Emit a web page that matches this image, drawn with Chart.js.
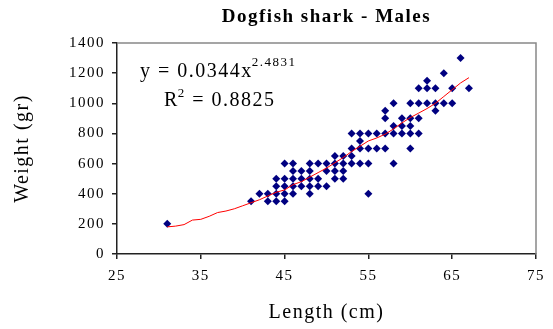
<!DOCTYPE html>
<html>
<head>
<meta charset="utf-8">
<script src="https://cdn.jsdelivr.net/npm/chart.js@4"></script>
<style>
  html, body { margin: 0; padding: 0; background: #fff; }
  #wrap { width: 553px; height: 329px; }
</style>
</head>
<body>
<div id="wrap"><canvas id="chartCanvas"></canvas></div>
<script>
const lengths = [
  31,
  41,
  42,
  43, 43,
  44, 44, 44, 44,
  45, 45, 45, 45, 45,
  46, 46, 46, 46, 46,
  47, 47, 47,
  48, 48, 48, 48, 48,
  49, 49, 49,
  50, 50, 50,
  51, 51, 51, 51,
  52, 52, 52, 52,
  53, 53, 53, 53,
  54, 54, 54, 54,
  55, 55, 55, 55,
  56, 56,
  57, 57, 57, 57,
  58, 58, 58, 58,
  59, 59, 59,
  60, 60, 60, 60, 60,
  61, 61, 61, 61,
  62, 62, 62,
  63, 63, 63,
  64, 64,
  65, 65,
  66,
  67
];
const weights = [
  200,
  350,
  400,
  400, 350,
  500, 450, 400, 350,
  600, 500, 450, 400, 350,
  600, 550, 500, 450, 400,
  550, 500, 450,
  600, 550, 500, 450, 400,
  600, 500, 450,
  600, 550, 450,
  650, 600, 550, 500,
  650, 600, 550, 500,
  800, 700, 650, 600,
  800, 750, 700, 600,
  800, 700, 600, 400,
  800, 700,
  950, 900, 800, 700,
  1000, 850, 800, 600,
  900, 850, 800,
  1000, 900, 850, 800, 700,
  1100, 1000, 900, 800,
  1150, 1100, 1000,
  1100, 1000, 950,
  1200, 1000,
  1100, 1000,
  1300,
  1100
];

// red trend line as drawn
const trendLengths = [31, 32, 33, 34, 35, 36, 37, 38, 39, 40, 41, 42, 43, 44, 45, 46, 47, 48, 49,
  50, 51, 52, 53, 54, 55, 56, 57, 58, 59, 60, 61, 62, 63, 64, 65, 66, 67];
const trendWeights = [180, 185, 195, 225, 230, 250, 275, 285, 300, 320, 340, 360, 385, 410, 425, 460, 480, 510, 540,
  570, 605, 640, 680, 715, 750, 770, 795, 830, 870, 905, 935, 965, 1000, 1045, 1090, 1135, 1170];

const xTicks = [25, 35, 45, 55, 65, 75];
const yTicks = [0, 200, 400, 600, 800, 1000, 1200, 1400];

const serif = '"Liberation Serif", "Times New Roman", serif';

const points = lengths.map((x, i) => ({ x: x, y: weights[i] }));
const trend = trendLengths.map((x, i) => ({ x: x, y: trendWeights[i] }));

// the original text is set a bit loose
const spacingPlugin = {
  id: 'spacing',
  beforeUpdate(chart) { chart.ctx.letterSpacing = '1.5px'; },
  beforeDraw(chart) { chart.ctx.letterSpacing = '1.5px'; }
};

// gray top/right frame of the plot area
const framePlugin = {
  id: 'frame',
  beforeDatasetsDraw(chart) {
    const { ctx, chartArea } = chart;
    ctx.save();
    ctx.strokeStyle = '#888';
    ctx.lineWidth = 1.5;
    ctx.beginPath();
    ctx.moveTo(chartArea.left, chartArea.top);
    ctx.lineTo(chartArea.right, chartArea.top);
    ctx.lineTo(chartArea.right, chartArea.bottom);
    ctx.stroke();
    ctx.restore();
  }
};

// equation + R squared label
const equationPlugin = {
  id: 'equation',
  afterDraw(chart) {
    const { ctx, chartArea } = chart;
    const x0 = chartArea.left + 23;
    const y0 = chartArea.top + 34;
    ctx.save();
    ctx.letterSpacing = '1.5px';
    ctx.fillStyle = '#000';
    ctx.textBaseline = 'alphabetic';
    ctx.font = '20px ' + serif;
    const main = 'y = 0.0344x';
    ctx.fillText(main, x0, y0);
    const w = ctx.measureText(main).width;
    ctx.font = '13px ' + serif;
    ctx.fillText('2.4831', x0 + w - 1, y0 - 11);

    const x1 = chartArea.left + 47;
    const y1 = chartArea.top + 63;
    ctx.font = '20px ' + serif;
    ctx.fillText('R', x1, y1);
    const wr = ctx.measureText('R').width;
    ctx.font = '13px ' + serif;
    ctx.fillText('2', x1 + wr - 1, y1 - 9);
    const w2 = ctx.measureText('2').width;
    ctx.font = '20px ' + serif;
    ctx.fillText(' = 0.8825', x1 + wr + w2 - 1, y1);
    ctx.restore();
  }
};

const chartCtx = document.getElementById('chartCanvas').getContext('2d');

new Chart(chartCtx, {
  type: 'scatter',
  data: {
    datasets: [
      {
        label: 'Males',
        data: points,
        pointStyle: 'rectRot',
        pointRadius: 4,
        pointHoverRadius: 4,
        backgroundColor: '#000080',
        borderColor: '#000080',
        borderWidth: 0,
        order: 2
      },
      {
        label: 'Trend',
        type: 'line',
        data: trend,
        borderColor: '#ff0000',
        borderWidth: 1,
        pointRadius: 0,
        fill: false,
        tension: 0,
        order: 1
      }
    ]
  },
  options: {
    responsive: true,
    maintainAspectRatio: false,
    animation: false,
    layout: { padding: { left: 0, right: 9, top: 0, bottom: 0 } },
    plugins: {
      legend: { display: false },
      tooltip: { enabled: false },
      title: {
        display: true,
        text: 'Dogfish shark - Males',
        color: '#000',
        fullSize: false,
        font: { family: serif, size: 19, weight: 'bold' },
        padding: { top: 6, bottom: 14.2 }
      }
    },
    scales: {
      x: {
        type: 'linear',
        min: xTicks[0],
        max: xTicks[xTicks.length - 1],
        afterBuildTicks: s => { s.ticks = xTicks.map(v => ({ value: v })); },
        afterFit: s => { s.height = 75; },
        ticks: { color: '#000', padding: 8, maxRotation: 0, font: { family: serif, size: 15 }, callback: v => String(v) },
        grid: { drawOnChartArea: false, drawTicks: true, tickLength: 5, color: '#222', lineWidth: 1.5 },
        border: { display: true, color: '#222', width: 1.5 },
        title: {
          display: true,
          text: 'Length (cm)',
          color: '#000',
          font: { family: serif, size: 20 },
          padding: { top: 0, bottom: 4 }
        }
      },
      y: {
        type: 'linear',
        min: yTicks[0],
        max: yTicks[yTicks.length - 1],
        afterBuildTicks: s => { s.ticks = yTicks.map(v => ({ value: v })); },
        afterFit: s => { s.width = 117; },
        ticks: { color: '#000', padding: 7, font: { family: serif, size: 15 }, callback: v => String(v) },
        grid: { drawOnChartArea: false, drawTicks: true, tickLength: 5, color: '#222', lineWidth: 1.5 },
        border: { display: true, color: '#222', width: 1.5 },
        title: {
          display: true,
          text: 'Weight (gr)',
          color: '#000',
          font: { family: serif, size: 20 },
          padding: { top: 11, bottom: 0 }
        }
      }
    }
  },
  plugins: [spacingPlugin, framePlugin, equationPlugin]
});
</script>
</body>
</html>
